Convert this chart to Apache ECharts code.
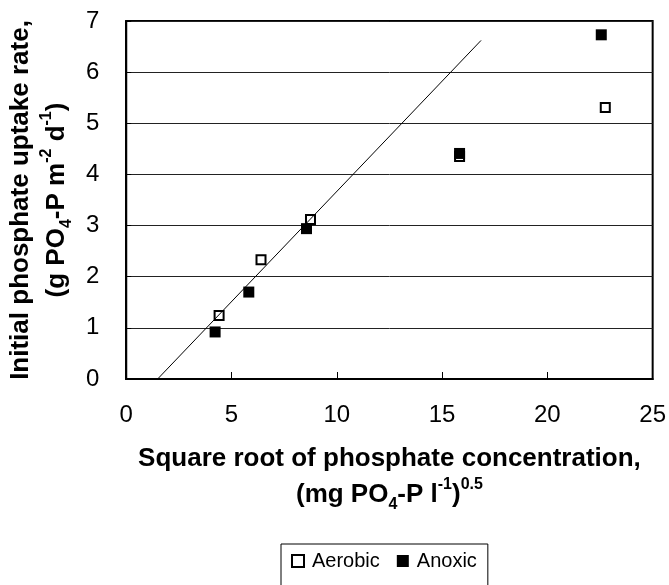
<!DOCTYPE html>
<html>
<head>
<meta charset="utf-8">
<script src="https://cdn.jsdelivr.net/npm/echarts@6/dist/echarts.min.js"></script>
<style>
  html, body { margin: 0; padding: 0; background: #fff; }
  #chart { width: 669px; height: 585px; }
</style>
</head>
<body>
<div id="chart"></div>
<script>
// Square root of phosphate concentration (mg PO4-P/l)^0.5 and uptake rate (g PO4-P m-2 d-1)
const aerobicX = [4.41, 6.40, 8.75, 15.83, 22.75];
const aerobicY = [1.24, 2.33, 3.12, 4.35, 5.31];
const anoxicX = [4.22, 5.82, 8.56, 15.83, 22.56];
const anoxicY = [0.92, 1.70, 2.94, 4.41, 6.73];
// Linear fit through the low-concentration points
const fitX = [1.49, 16.85];
const fitY = [0, 6.62];
const xTicks = [0, 5, 10, 15, 20, 25];
const yTicks = [0, 1, 2, 3, 4, 5, 6, 7];

const pairs = (xs, ys) => xs.map((x, i) => [x, ys[i]]);
const FONT = '"Liberation Sans", Arial, sans-serif';

const titleRich = {
  t: { fontFamily: FONT, fontWeight: 'bold', fontSize: 26, lineHeight: 36, color: '#000' },
  sub: { fontFamily: FONT, fontWeight: 'bold', fontSize: 16, lineHeight: 16, verticalAlign: 'bottom', color: '#000' },
  sup: { fontFamily: FONT, fontWeight: 'bold', fontSize: 16, lineHeight: 18, verticalAlign: 'top', color: '#000' }
};

const chart = echarts.init(document.getElementById('chart'), null, { renderer: 'canvas' });
chart.setOption({
  animation: false,
  backgroundColor: '#fff',
  grid: {
    left: 125, right: 14, top: 21, bottom: 206,
    show: true, borderColor: '#000', borderWidth: 2, backgroundColor: 'transparent'
  },
  legend: {
    data: ['Aerobic', 'Anoxic'],
    left: 281, top: 544,
    orient: 'horizontal',
    itemWidth: 12, itemHeight: 12, itemGap: 17,
    padding: [7, 11, 40, 10],
    borderColor: '#000', borderWidth: 1,
    textStyle: { fontFamily: FONT, fontSize: 20, color: '#000', padding: [0, 0, 0, 3] }
  },
  xAxis: {
    type: 'value', min: xTicks[0], max: xTicks[xTicks.length - 1], interval: 5,
    axisLine: { show: true, lineStyle: { color: '#000', width: 2 } },
    axisTick: { show: true, inside: true, length: 7, lineStyle: { color: '#000', width: 1 } },
    axisLabel: { fontFamily: FONT, fontSize: 24, color: '#000', margin: 24 },
    splitLine: { show: false },
    name: '{t|Square root of phosphate concentration,}\n{t|(mg PO}{sub|4}{t|-P l}{sup|-1}{t|)}{sup|0.5}',
    nameLocation: 'middle', nameGap: 62,
    nameTextStyle: { rich: titleRich, align: 'center' }
  },
  yAxis: {
    type: 'value', min: yTicks[0], max: yTicks[yTicks.length - 1], interval: 1,
    axisLine: { show: true, lineStyle: { color: '#000', width: 2 } },
    axisTick: { show: true, inside: true, length: 5, lineStyle: { color: '#000', width: 1 } },
    axisLabel: { fontFamily: FONT, fontSize: 24, color: '#000', margin: 27 },
    splitLine: { show: true, lineStyle: { color: '#222', width: 1 } },
    name: '{t|Initial phosphate uptake rate,}\n{t|(g PO}{sub|4}{t|-P m}{sup|-2}{t| d}{sup|-1}{t|)}',
    nameLocation: 'middle', nameGap: 50, nameRotate: 90,
    nameTextStyle: { rich: titleRich, align: 'center' }
  },
  series: [
    {
      name: 'Aerobic', type: 'scatter', symbol: 'rect', symbolSize: 9,
      itemStyle: { color: '#fff', borderColor: '#000', borderWidth: 2, opacity: 1 },
      data: pairs(aerobicX, aerobicY), z: 3
    },
    {
      name: 'Anoxic', type: 'scatter', symbol: 'rect', symbolSize: 11,
      itemStyle: { color: '#000', borderColor: '#000', borderWidth: 0, opacity: 1 },
      data: pairs(anoxicX, anoxicY), z: 4
    },
    {
      name: 'fit', type: 'line', symbol: 'none', silent: true,
      lineStyle: { color: '#000', width: 1 },
      data: pairs(fitX, fitY), z: 5
    }
  ]
});
</script>
</body>
</html>
